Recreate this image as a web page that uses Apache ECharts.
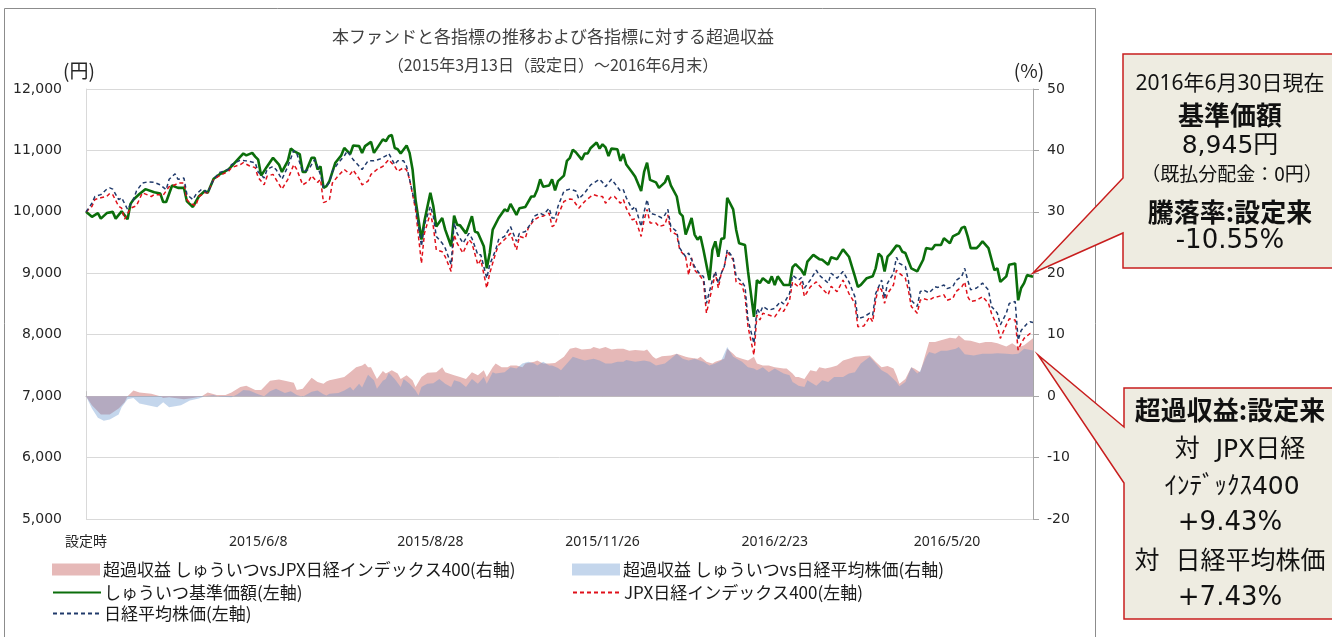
<!DOCTYPE html>
<html>
<head>
<meta charset="utf-8">
<script src="https://cdn.jsdelivr.net/npm/echarts@6/dist/echarts.min.js"></script>
<style>
  html, body { margin: 0; padding: 0; background: #fff; }
  #chart { width: 1332px; height: 637px; }
</style>
</head>
<body>
<div id="chart"></div>
<script>
// x = trading day since launch (0 = 2015/3/13, 319 = 2016/6/30), one label every 58 days
const tickLabels = ['設定時', '2015/6/8', '2015/8/28', '2015/11/26', '2016/2/23', '2016/5/20']

// 基準価額 (円)
const fund = [
  [0,10000],[2,9920],[4,9980],[5,9890],[7,9980],[9,10000],[10,9890],[12,10010],[14,9880],[15,10130],[16,10200],[18,10290],[20,10370],
  [23,10320],[25,10300],[26,10160],[27,10160],[29,10430],[31,10390],[33,10390],[34,10170],[36,10080],[38,10250],[40,10340],[41,10310],
  [43,10540],[45,10610],[48,10690],[49,10740],[52,10900],[53,10950],[54,10920],[56,10960],[57,10900],[58,10850],[59,10590],[61,10740],
  [63,10880],[65,10770],[66,10650],[68,10830],[69,11030],[70,10990],[72,10940],[73,10650],[74,10650],[76,10880],[77,10880],[78,10690],
  [79,10740],[80,10390],[81,10420],[82,10500],[84,10800],[86,10920],[87,11040],[89,10940],[90,11080],[92,11070],[93,10960],[94,11070],
  [96,11140],[97,10960],[100,11180],[101,11150],[102,11230],[103,11250],[104,11040],[105,11020],[106,10950],[108,11080],[109,10960],
  [110,10690],[111,10200],[113,9550],[114,9850],[116,10310],[117,10090],[118,9760],[120,9900],[121,9710],[123,9440],[124,9940],[125,9790],
  [126,9780],[128,9650],[130,9930],[131,9680],[132,9660],[134,9440],[135,9080],[136,9330],[137,9710],[139,9900],[141,10040],[142,10010],
  [143,10130],[145,9950],[146,10060],[148,10080],[150,10250],[151,10250],[152,10360],[153,10530],[154,10410],[156,10430],[157,10530],
  [158,10350],[159,10500],[161,10590],[162,10830],[163,10880],[164,11010],[165,10970],[167,10850],[168,10950],[169,10950],[170,11040],
  [172,11130],[173,11030],[174,11100],[175,11050],[176,10910],[177,11030],[179,11020],[180,10830],[181,10940],[182,10770],[184,10640],
  [185,10570],[187,10340],[188,10650],[189,10800],[190,10520],[192,10480],[193,10390],[195,10480],[196,10590],[197,10430],[199,10250],
  [200,9980],[201,9930],[202,9630],[204,9900],[205,9630],[206,9550],[207,9600],[208,9380],[210,8890],[211,9380],[212,9520],[213,9270],
  [214,9560],[215,9570],[216,10230],[218,10040],[219,9710],[220,9490],[222,9460],[223,9030],[225,8290],[226,8890],[227,8840],[228,8920],
  [230,8840],[231,8950],[232,8810],[233,8950],[235,8810],[237,8810],[238,9100],[239,9150],[241,9050],[242,8970],[243,9190],[245,9300],
  [247,9230],[248,9220],[250,9140],[251,9260],[253,9230],[255,9390],[257,9270],[259,8950],[260,8780],[261,8810],[263,8920],[265,8950],
  [266,9080],[267,9320],[268,9270],[269,9030],[270,9270],[271,9320],[273,9450],[274,9440],[275,9350],[276,9330],[278,9080],[280,9030],
  [282,9220],[283,9410],[285,9390],[286,9460],[288,9460],[289,9570],[291,9490],[292,9600],[294,9650],[295,9740],[296,9760],[297,9600],
  [298,9410],[300,9410],[301,9460],[302,9520],[304,9410],[306,9050],[307,9080],[308,8860],[310,8950],[311,9140],[313,9160],[314,8560],
  [315,8760],[316,8840],[317,8970],[319,8945]
]

// JPX日経インデックス400 (設定日=10,000)
const jpx = [
  [0,10000],[2,10090],[3,10200],[5,10230],[7,10250],[8,10300],[9,10280],[11,10090],[12,10060],[13,9880],[15,10060],[17,10100],[19,10310],
  [22,10250],[23,10280],[25,10280],[26,10270],[28,10410],[30,10440],[31,10470],[33,10470],[34,10200],[35,10140],[37,10100],[38,10250],
  [40,10310],[41,10310],[43,10530],[45,10590],[48,10660],[49,10720],[52,10770],[53,10800],[55,10750],[57,10720],[58,10560],[60,10440],
  [61,10580],[63,10610],[64,10530],[66,10370],[68,10530],[70,10770],[71,10690],[73,10440],[75,10500],[76,10590],[78,10480],[79,10530],
  [80,10150],[81,10170],[82,10200],[83,10470],[85,10590],[87,10690],[89,10610],[90,10680],[92,10540],[93,10440],[95,10500],[96,10610],
  [98,10690],[100,10740],[102,10850],[104,10740],[105,10660],[107,10720],[108,10680],[109,10530],[111,10040],[113,9160],[114,9650],
  [116,9980],[117,9760],[118,9380],[120,9350],[121,9270],[123,9030],[124,9630],[125,9490],[127,9330],[129,9550],[130,9490],[132,9140],
  [133,9220],[135,8760],[136,9000],[138,9330],[139,9460],[141,9550],[143,9650],[145,9380],[146,9600],[148,9570],[149,9740],[151,9870],
  [153,9930],[154,9930],[156,9980],[157,9760],[158,9790],[159,9950],[161,10170],[163,10210],[164,10200],[166,10060],[168,10170],
  [170,10250],[171,10280],[173,10250],[174,10250],[175,10140],[177,10250],[178,10250],[180,10140],[181,10200],[182,10060],[184,9870],
  [185,9890],[187,9600],[188,9870],[189,10040],[190,9820],[192,9820],[193,9760],[195,9790],[196,9950],[197,9680],[199,9630],[200,9380],
  [202,9270],[203,8970],[204,9250],[205,9050],[207,8950],[208,8870],[209,8350],[211,8780],[212,9000],[213,8760],[214,9000],[215,9110],
  [216,9350],[218,9220],[219,8860],[221,8810],[222,8620],[223,8130],[225,7670],[226,8320],[227,8240],[228,8350],[230,8320],[232,8290],
  [234,8430],[235,8380],[237,8560],[238,8860],[240,8780],[241,8860],[242,8620],[244,8780],[246,8860],[247,8800],[250,8650],[251,8790],
  [253,8700],[255,8890],[257,8670],[259,8510],[260,8130],[262,8140],[264,8290],[265,8210],[266,8560],[267,8780],[268,8730],[269,8510],
  [270,8670],[272,8810],[273,9050],[274,9000],[276,8920],[277,8730],[278,8460],[280,8350],[281,8560],[282,8590],[284,8560],[286,8620],
  [287,8620],[289,8650],[290,8560],[292,8590],[293,8700],[295,8780],[296,8860],[297,8620],[298,8540],[300,8560],[302,8620],[304,8510],
  [305,8350],[307,8130],[308,7940],[310,8160],[311,8260],[313,8240],[314,7750],[315,7860],[316,7940],[318,8020],[319,8000]
]

// 日経平均株価 (設定日=10,000)
const nikkei = [
  [0,10000],[2,10140],[3,10250],[5,10280],[7,10370],[8,10390],[9,10370],[11,10200],[12,10230],[14,10040],[16,10200],[17,10340],[19,10470],
  [21,10490],[23,10480],[25,10440],[27,10360],[28,10530],[30,10620],[31,10530],[33,10550],[34,10280],[36,10200],[37,10280],[39,10370],
  [41,10310],[43,10530],[45,10640],[48,10690],[49,10770],[52,10840],[54,10830],[57,10800],[58,10650],[60,10550],[61,10690],[63,10740],
  [64,10690],[66,10530],[68,10740],[70,11000],[71,10950],[73,10650],[75,10690],[77,10850],[78,10740],[79,10600],[80,10400],[81,10420],
  [82,10480],[83,10660],[85,10800],[87,10910],[88,10990],[90,10850],[91,10800],[93,10690],[95,10830],[97,10830],[99,10860],[101,10910],
  [102,10950],[104,10770],[105,10830],[107,10830],[108,10740],[109,10530],[111,10090],[113,9440],[114,9790],[116,10090],[117,9930],
  [118,9600],[120,9490],[121,9410],[123,9140],[124,9820],[125,9650],[127,9490],[129,9650],[130,9570],[132,9300],[133,9300],[135,8920],
  [136,9140],[138,9380],[139,9550],[141,9600],[143,9760],[145,9520],[146,9650],[148,9680],[150,9820],[151,9930],[153,9980],[154,9950],
  [156,10060],[157,9900],[158,9900],[159,10090],[161,10340],[163,10370],[165,10340],[166,10210],[168,10310],[170,10440],[172,10500],
  [173,10530],[174,10480],[175,10410],[177,10530],[178,10470],[180,10340],[181,10360],[182,10230],[184,10040],[185,10090],[187,9760],
  [188,10000],[189,10200],[190,9980],[192,9950],[194,9900],[195,9950],[196,10040],[197,9760],[199,9680],[200,9410],[202,9270],[203,9330],
  [205,9110],[207,8970],[208,8950],[209,8510],[211,8890],[212,9030],[213,8840],[214,9000],[215,9110],[216,9380],[218,9250],[219,8950],
  [221,8860],[222,8780],[223,8240],[225,7860],[226,8430],[227,8350],[228,8460],[230,8400],[232,8430],[234,8540],[235,8500],[237,8670],
  [238,8970],[240,8890],[241,8930],[242,8760],[244,8890],[246,9050],[247,8970],[250,8840],[251,9000],[253,8920],[255,9030],[257,8860],
  [259,8620],[260,8260],[262,8290],[264,8350],[265,8320],[266,8670],[268,8890],[269,8590],[270,8840],[272,9000],[273,9260],[274,9160],
  [276,9110],[277,8890],[278,8560],[280,8460],[281,8700],[282,8730],[284,8680],[286,8780],[287,8770],[289,8810],[290,8750],[292,8780],
  [293,8880],[295,8950],[296,9080],[297,8890],[298,8730],[300,8760],[302,8840],[304,8730],[305,8460],[307,8350],[308,8160],[310,8350],
  [311,8510],[313,8540],[314,7910],[315,8070],[317,8180],[318,8210],[319,8200]
]

// 超過収益 しゅういつ vs JPX日経400 (%)
const excessJpx = [
  [0,0],[2,-1.5],[5,-3.0],[8,-3.0],[11,-2.0],[13,-1.0],[14,0],[16,0.9],[18,0.6],[22,0.4],[25,0],[26,-0.3],[28,-0.2],[33,-0.5],[36,-0.3],
  [39,0],[41,0.6],[44,0.2],[47,0.2],[49,0.6],[52,1.5],[54,1.7],[57,1.0],[59,1.0],[62,2.5],[65,2.7],[67,2.5],[70,2.2],[71,1.0],[73,1.2],
  [76,3.0],[78,2.3],[80,2.0],[81,2.4],[82,2.6],[84,2.8],[87,3.1],[89,3.9],[91,4.7],[93,5.0],[94,5.3],[95,4.7],[96,4.7],[98,2.8],[100,4.1],
  [101,3.7],[103,4.2],[105,3.7],[106,2.8],[108,3.4],[110,2.6],[111,1.5],[113,3.1],[115,3.8],[118,3.9],[120,4.7],[121,3.9],[124,3.4],
  [126,3.1],[128,2.8],[130,3.9],[132,3.4],[134,4.2],[135,3.1],[137,4.7],[138,5.3],[140,4.7],[142,4.7],[143,5.0],[145,5.0],[147,4.7],
  [148,5.3],[151,5.6],[152,5.8],[154,5.3],[156,5.3],[158,5.4],[161,6.4],[163,7.7],[165,7.9],[167,7.6],[170,7.7],[171,8.0],[173,7.7],
  [175,8.0],[177,7.6],[179,7.7],[181,7.7],[183,7.4],[185,7.5],[188,7.4],[189,7.6],[191,6.4],[192,6.1],[194,6.5],[197,6.6],[199,6.9],
  [202,6.4],[203,6.3],[206,6.1],[207,6.4],[209,5.6],[211,5.3],[212,5.6],[215,6.1],[216,7.7],[218,6.9],[219,6.4],[221,6.1],[223,5.8],
  [225,6.4],[226,5.3],[228,5.0],[230,5.0],[232,4.7],[235,4.5],[236,4.5],[238,3.7],[239,3.1],[240,3.1],[242,2.8],[244,4.2],[246,4.0],
  [247,4.7],[249,4.5],[251,4.7],[253,5.0],[255,5.8],[257,6.1],[259,6.4],[261,6.5],[264,6.6],[266,5.6],[268,4.7],[270,4.9],[272,4.5],
  [273,3.4],[274,2.0],[276,2.8],[278,4.7],[279,4.5],[281,3.9],[283,7.2],[284,8.8],[286,8.8],[288,9.1],[291,9.5],[293,9.4],[294,9.9],
  [296,9.1],[298,9.0],[301,8.6],[303,8.8],[305,8.8],[307,8.6],[310,8.1],[312,8.6],[314,7.9],[316,8.3],[319,9.43]
]

// 超過収益 しゅういつ vs 日経平均株価 (%)
const excessNikkei = [
  [0,0],[2,-2.0],[4,-3.5],[6,-4.0],[8,-3.8],[11,-3.0],[12,-1.8],[14,-0.5],[16,-0.3],[18,-1.2],[22,-1.6],[24,-1.8],[26,-1.0],[28,-1.8],
  [32,-1.5],[35,-0.7],[38,-0.4],[40,0],[43,0.2],[45,-0.1],[49,-0.2],[51,0.3],[53,1.0],[55,0.9],[58,0.3],[60,0],[62,0.8],[64,1.2],[67,0.5],
  [69,0.8],[71,0.2],[73,-0.1],[76,0.7],[78,0.9],[80,0.3],[81,0.1],[82,0.4],[85,0.5],[87,0.9],[89,1.5],[90,0.9],[92,2.0],[93,1.4],[95,3.5],
  [97,2.6],[98,1.2],[100,2.5],[101,2.8],[102,3.8],[104,2.8],[106,1.5],[107,2.8],[109,2.0],[111,0.9],[112,0.1],[113,1.5],[115,2.0],
  [117,2.1],[119,2.8],[121,2.0],[123,1.5],[124,2.6],[126,2.3],[128,1.5],[130,2.8],[132,2.0],[134,3.1],[135,2.0],[137,3.9],[138,3.7],
  [141,3.9],[143,4.7],[145,4.5],[147,5.3],[149,5.6],[151,5.3],[152,5.0],[154,5.6],[156,5.0],[157,5.0],[159,4.6],[160,4.2],[162,5.3],
  [164,6.4],[166,6.1],[168,5.8],[171,6.1],[173,5.8],[175,5.3],[177,5.3],[179,5.6],[181,5.6],[182,5.9],[185,5.6],[188,5.8],[190,5.6],
  [192,5.0],[195,5.3],[197,6.1],[199,6.9],[201,6.1],[203,5.8],[205,6.1],[208,5.6],[210,5.0],[212,5.3],[214,5.8],[216,8.0],[218,6.4],
  [221,5.6],[223,4.7],[225,4.5],[226,4.2],[228,4.7],[230,3.9],[232,4.5],[235,3.7],[237,3.4],[238,2.3],[239,2.0],[240,1.7],[242,1.5],
  [243,2.6],[246,1.7],[248,2.6],[250,2.3],[252,3.1],[255,3.1],[257,3.7],[259,3.9],[261,5.3],[264,6.4],[266,5.3],[268,4.2],[270,3.7],
  [272,2.8],[273,2.3],[274,1.6],[276,2.3],[278,4.7],[280,3.7],[281,4.1],[283,6.4],[284,7.2],[286,6.9],[288,7.4],[290,7.4],[293,7.7],
  [294,8.0],[296,6.8],[299,6.6],[302,6.9],[305,6.9],[307,7.0],[310,6.9],[312,6.8],[314,6.9],[316,7.7],[319,7.43]
]

const NAME_EX_JPX = '超過収益 しゅういつvsJPX日経インデックス400(右軸)'
const NAME_EX_NK = '超過収益 しゅういつvs日経平均株価(右軸)'
const NAME_FUND = 'しゅういつ基準価額(左軸)'
const NAME_JPX = 'JPX日経インデックス400(左軸)'
const NAME_NK = '日経平均株価(左軸)'

const JP = '"Noto Sans CJK JP"'
const NUM = '"DejaVu Sans", "Noto Sans CJK JP"'
const PINK = '#e6b9b8'
const BLUE = 'rgba(100,147,205,0.38)'
const RED_LINE = '#c81e1e'

const chart = echarts.init(document.getElementById('chart'))

function legendAt(name, left, top, isArea) {
  const item = { name: name }
  if (isArea) item.icon = 'rect'
  return {
    data: [item], left: left, top: top, padding: 0,
    itemWidth: 48, itemHeight: 12,
    // lines get no marker in the middle
    itemStyle: isArea ? {} : { opacity: 0 },
    textStyle: { fontFamily: JP, fontSize: 17, color: '#1a1a1a', padding: [0, 0, 0, -2] }
  }
}

function boxText(text, x, y, size, bold, family, spacing) {
  return {
    type: 'text', x: x, y: y, z: 20,
    style: {
      text: text, fill: '#111', fontSize: size, fontWeight: bold ? 'bold' : 'normal',
      fontFamily: family || JP, align: 'center', verticalAlign: 'middle',
      textAlign: 'center', textVerticalAlign: 'middle', letterSpacing: spacing || 0
    }
  }
}

chart.setOption({
  animation: false,
  backgroundColor: '#fff',
  title: {
    text: '本ファンドと各指標の推移および各指標に対する超過収益',
    subtext: '（2015年3月13日（設定日）～2016年6月末）',
    left: 553, top: 28, textAlign: 'center', padding: 0, itemGap: 12,
    textStyle: { fontFamily: JP, fontSize: 17, fontWeight: 'normal', color: '#404040' },
    subtextStyle: { fontFamily: JP, fontSize: 16, color: '#404040' }
  },
  grid: { left: 86, right: 299, top: 89, bottom: 118, containLabel: false, outerBoundsMode: 'none' },
  legend: [
    legendAt(NAME_EX_JPX, 52, 561, true),
    legendAt(NAME_EX_NK, 572, 561, true),
    legendAt(NAME_FUND, 52, 584),
    legendAt(NAME_JPX, 572, 584),
    legendAt(NAME_NK, 52, 605)
  ],
  xAxis: {
    type: 'value', min: 0, max: 319, interval: 58,
    axisLine: { lineStyle: { color: '#bfbfbf' } },
    axisTick: { show: true, inside: true, length: 5, lineStyle: { color: '#bfbfbf' } },
    splitLine: { show: false },
    axisLabel: {
      margin: 16, fontFamily: '"Noto Sans", "Noto Sans CJK JP"', fontSize: 14, color: '#262626',
      showMaxLabel: false,
      formatter: v => tickLabels[Math.round(v / 58)] || ''
    }
  },
  yAxis: [{
    type: 'value', min: 5000, max: 12000, interval: 1000,
    axisLine: { show: true, lineStyle: { color: '#d9d9d9' } },
    axisTick: { show: false },
    splitLine: { lineStyle: { color: '#d9d9d9' } },
    axisLabel: {
      margin: 24, fontFamily: NUM, fontSize: 14, color: '#262626',
      formatter: v => v.toLocaleString('en-US')
    }
  }, {
    type: 'value', min: -20, max: 50, interval: 10, position: 'right',
    axisLine: { show: true, lineStyle: { color: '#a6a6a6' } },
    axisTick: { show: true, length: 6, lineStyle: { color: '#a6a6a6' } },
    splitLine: { show: false },
    axisLabel: { margin: 14, fontFamily: NUM, fontSize: 14, color: '#262626' }
  }],
  series: [{
    name: NAME_EX_JPX, type: 'line', yAxisIndex: 1, data: excessJpx,
    showSymbol: false, symbol: 'none', z: 1,
    itemStyle: { color: PINK },
    lineStyle: { width: 0, color: PINK },
    areaStyle: { color: PINK, opacity: 1 }
  }, {
    name: NAME_EX_NK, type: 'line', yAxisIndex: 1, data: excessNikkei,
    showSymbol: false, symbol: 'none', z: 2,
    itemStyle: { color: BLUE },
    lineStyle: { width: 0, color: BLUE },
    areaStyle: { color: BLUE, opacity: 1 }
  }, {
    name: NAME_FUND, type: 'line', data: fund,
    showSymbol: false, symbol: 'none', z: 3,
    itemStyle: { color: '#0b6e0b' },
    lineStyle: { width: 2.6, color: '#0b6e0b' }
  }, {
    name: NAME_JPX, type: 'line', data: jpx,
    showSymbol: false, symbol: 'none', z: 4,
    itemStyle: { color: '#e0101a' },
    lineStyle: { width: 1.5, color: '#e0101a', type: [4, 3] }
  }, {
    name: NAME_NK, type: 'line', data: nikkei,
    showSymbol: false, symbol: 'none', z: 5,
    itemStyle: { color: '#203a6b' },
    lineStyle: { width: 1.5, color: '#203a6b', type: [4, 3] }
  }],
  graphic: [
    // chart frame
    { type: 'rect', shape: { x: 4.5, y: 8.5, width: 1091, height: 660 }, style: { fill: null, stroke: '#8c8c8c', lineWidth: 1 }, silent: true },
    { type: 'text', x: 79, y: 71, style: { text: '(円)', fontFamily: JP, fontSize: 19, fill: '#262626', align: 'center', verticalAlign: 'middle', textAlign: 'center', textVerticalAlign: 'middle' } },
    { type: 'text', x: 1029, y: 71, style: { text: '(%)', fontFamily: JP, fontSize: 19, fill: '#262626', align: 'center', verticalAlign: 'middle', textAlign: 'center', textVerticalAlign: 'middle' } },
    // callout: price
    {
      type: 'polygon', z: 10,
      shape: { points: [[1123, 54], [1345, 54], [1345, 268], [1123, 268], [1123, 233], [1033, 273], [1123, 178]] },
      style: { fill: '#eeece1', stroke: RED_LINE, lineWidth: 1.5 }
    },
    boxText('2016年6月30日現在', 1230, 84, 21, false, '"Noto Sans", "Noto Sans CJK JP"'),
    boxText('基準価額', 1230, 115, 26, true),
    boxText('8,945円', 1230, 146, 25, false, NUM),
    boxText('（既払分配金：0円）', 1232, 174, 19, false, JP, 2),
    boxText('騰落率:設定来', 1230, 212, 26, true),
    boxText('-10.55%', 1230, 241, 26, false, NUM),
    // callout: excess return
    {
      type: 'polygon', z: 10,
      shape: { points: [[1124, 388], [1345, 388], [1345, 619], [1124, 619], [1124, 483], [1038, 355], [1124, 427]] },
      style: { fill: '#eeece1', stroke: RED_LINE, lineWidth: 1.5 }
    },
    boxText('超過収益:設定来', 1230, 410, 26, true),
    boxText('対  JPX日経', 1240, 450, 25, false, NUM),
    boxText('ｲﾝﾃﾞｯｸｽ400', 1232, 487, 25, false, NUM),
    boxText('+9.43%', 1230, 523, 26, false, NUM),
    boxText('対  日経平均株価', 1230, 562, 25, false, NUM),
    boxText('+7.43%', 1230, 598, 26, false, NUM)
  ]
})
</script>
</body>
</html>
